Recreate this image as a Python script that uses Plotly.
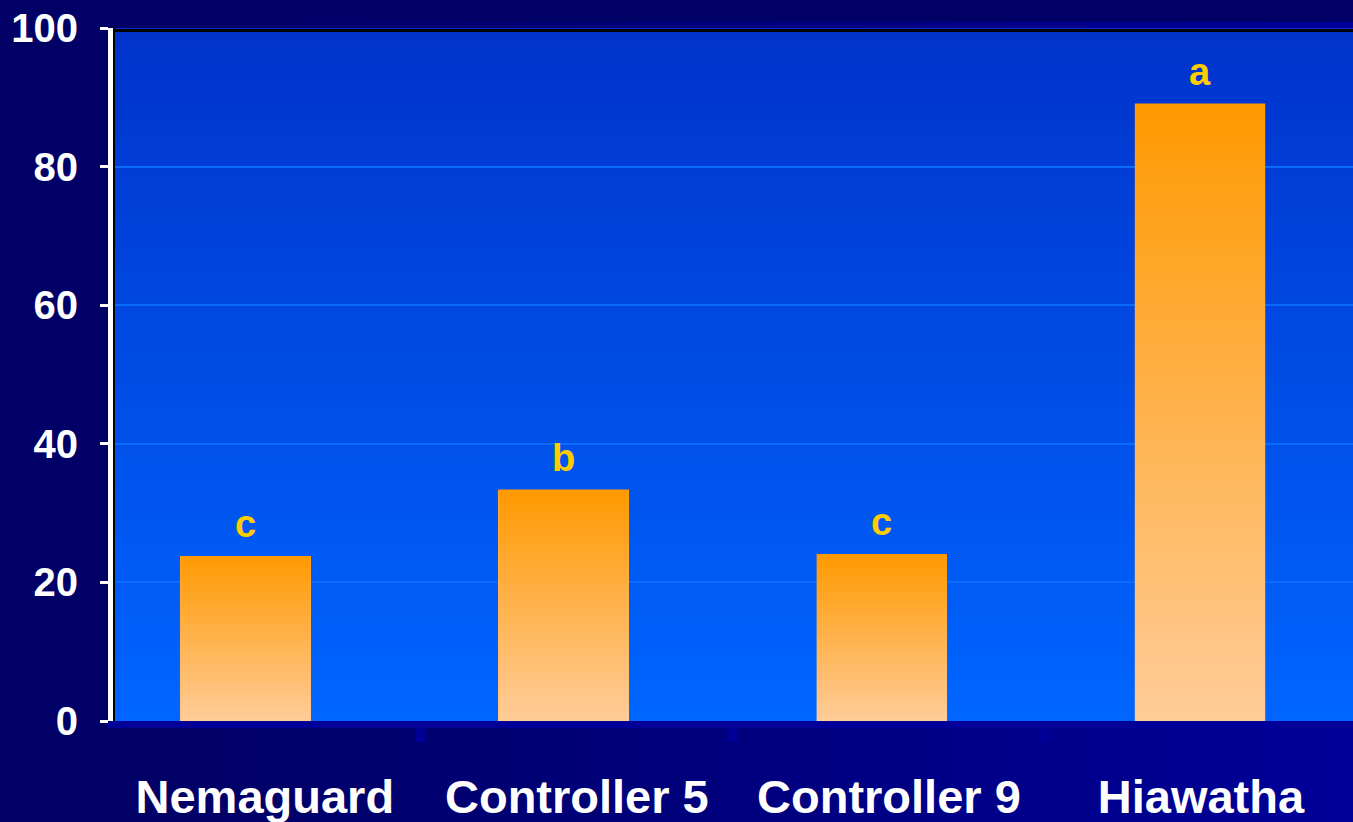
import base64
import struct
import zlib
import plotly.graph_objects as go

# ---------------- data ----------------
categories = ["Nemaguard", "Controller 5", "Controller 9", "Hiawatha"]
values = [23.8, 33.4, 24.1, 89.1]
letters = ["c", "b", "c", "a"]
y_ticks = [0, 20, 40, 60, 80, 100]

# ---------------- helpers ----------------
W, H = 1353, 822
ML, MR, MT, MB = 113, 0, 28, 101
PW, PH = W - ML - MR, H - MT - MB


def px_to_paper_x(px):
    return (px - ML) / PW


def px_to_paper_y(py):
    return 1 - (py - MT) / PH


def lerp(c0, c1, t):
    return tuple(int(round(a + (b - a) * t)) for a, b in zip(c0, c1))


def gradient_png(top, bottom, n=256, width=4):
    rows = []
    for i in range(n):
        rgb = lerp(top, bottom, i / (n - 1))
        rows.append(b"\x00" + bytes(rgb) * width)
    raw = b"".join(rows)

    def chunk(tag, data):
        return (struct.pack(">I", len(data)) + tag + data +
                struct.pack(">I", zlib.crc32(tag + data) & 0xFFFFFFFF))

    png = (b"\x89PNG\r\n\x1a\n" +
           chunk(b"IHDR", struct.pack(">IIBBBBB", width, n, 8, 2, 0, 0, 0)) +
           chunk(b"IDAT", zlib.compress(raw, 9)) +
           chunk(b"IEND", b""))
    return "data:image/png;base64," + base64.b64encode(png).decode()


FONT = "Liberation Sans, Arial, sans-serif"
bar_width = 0.41
x_idx = list(range(len(categories)))

fig = go.Figure()

# solid bars
fig.add_trace(go.Bar(
    x=x_idx, y=values, width=bar_width,
    marker=dict(color="#ffb466", line=dict(width=0)),
    hoverinfo="skip", showlegend=False,
))

# gradient overlay for each bar, built from the same data
for i, v in zip(x_idx, values):
    fig.add_trace(go.Scatter(
        x=[i - bar_width / 2, i + bar_width / 2, i + bar_width / 2, i - bar_width / 2, i - bar_width / 2],
        y=[0, 0, v, v, 0],
        mode="lines", fill="toself", line=dict(width=0),
        fillgradient=dict(type="vertical",
                          colorscale=[[0, "#ffcc99"], [1, "#ff9900"]]),
        hoverinfo="skip", showlegend=False,
    ))

# significance letters above the bars
annotations = [
    dict(x=i, y=v, xref="x", yref="y", text=t, showarrow=False,
         yanchor="bottom", yshift=9,
         font=dict(color="#ffcc00", size=38, family=FONT, weight="bold"))
    for i, v, t in zip(x_idx, values, letters)
]

# ---------------- background decorations ----------------
shapes = []
# slide panel with a horizontal navy gradient (stepped), outside the plot area only
x_start, x_end = 200, W
steps = 40
c_dark, c_light = (0x00, 0x00, 0x66), (0x00, 0x00, 0x99)
bands = [(22, MT), (MT + PH, H + 2)]
for s in range(steps):
    xa = x_start + (x_end - x_start) * s / steps
    xb = x_start + (x_end - x_start) * (s + 1) / steps + 1
    col = lerp(c_dark, c_light, (s + 0.5) / steps)
    for ya, yb in bands:
        shapes.append(dict(
            type="rect", xref="paper", yref="paper", layer="below",
            x0=px_to_paper_x(xa), x1=px_to_paper_x(xb),
            y0=px_to_paper_y(ya), y1=px_to_paper_y(yb),
            fillcolor="rgb(%d,%d,%d)" % col, line=dict(width=0),
        ))
# black frame lines at top and left of plot area
shapes.append(dict(type="line", xref="paper", yref="paper", layer="above",
                   x0=0, x1=1, y0=px_to_paper_y(30.5), y1=px_to_paper_y(30.5),
                   line=dict(color="#000000", width=3)))
shapes.append(dict(type="line", xref="paper", yref="paper", layer="above",
                   x0=px_to_paper_x(114), x1=px_to_paper_x(114), y0=0, y1=1,
                   line=dict(color="#000000", width=2)))

images = [dict(
    source=gradient_png((0x00, 0x33, 0xCC), (0x00, 0x66, 0xFF)),
    xref="paper", yref="paper", x=0, y=1, sizex=1, sizey=1,
    xanchor="left", yanchor="top", sizing="stretch", layer="below",
)]

# category label axis: centres step and offset as in the source slide
lab_c0, lab_step = 264.8, 312.05
lab_left = -(lab_c0 - ML) / lab_step
lab_right = lab_left + PW / lab_step

bar_c0, bar_step = 245.5, 318.17
bar_left = -(bar_c0 - ML) / bar_step
bar_right = bar_left + PW / bar_step

fig.update_layout(
    width=W, height=H,
    margin=dict(l=ML, r=MR, t=MT, b=MB, pad=0, autoexpand=False),
    paper_bgcolor="#000066",
    plot_bgcolor="rgba(0,0,0,0)",
    showlegend=False,
    shapes=shapes,
    images=images,
    annotations=annotations,
    bargap=0,
    xaxis=dict(
        range=[bar_left, bar_right], showticklabels=False, ticks="",
        showgrid=False, zeroline=False, showline=False, fixedrange=True,
        automargin=False,
    ),
    xaxis2=dict(
        overlaying="x", anchor="y", side="bottom",
        range=[lab_left, lab_right], tickmode="array",
        tickvals=x_idx, ticktext=categories, ticks="",
        tickfont=dict(color="white", size=47, family=FONT, weight="bold"),
        ticklabelstandoff=29, automargin=False,
        showline=True, linecolor="#000099", linewidth=7,
        minor=dict(tickmode="array", tickvals=[v + 0.5 for v in x_idx[:-1]],
                   ticks="outside", ticklen=14, tickwidth=9, tickcolor="#000099"),
        showgrid=False, zeroline=False,
    ),
    yaxis=dict(
        range=[0, 100], tickmode="array", tickvals=y_ticks,
        tickfont=dict(color="white", size=40, family=FONT, weight="bold"),
        ticks="outside", ticklen=8, tickwidth=3, tickcolor="white",
        ticklabelstandoff=14, automargin=False,
        showline=True, linecolor="white", linewidth=5,
        showgrid=True, gridcolor="#0a6cff", gridwidth=2,
        zeroline=False, fixedrange=True,
    ),
)

# invisible trace so xaxis2 is active
fig.add_trace(go.Scatter(x=[0], y=[0], xaxis="x2", mode="markers",
                         marker=dict(opacity=0), hoverinfo="skip", showlegend=False))

fig.write_html("out.html")
